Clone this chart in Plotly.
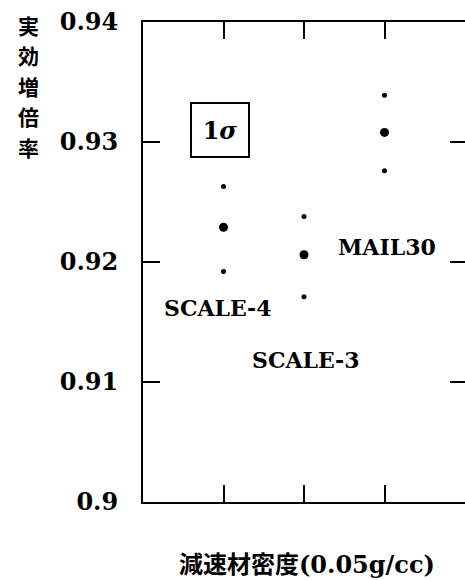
import plotly.graph_objects as go

codes = ["SCALE-4", "SCALE-3", "MAIL30"]
x_pos = [1, 2, 3]
keff = [0.9229, 0.9206, 0.9308]
keff_plus_sigma = [0.9263, 0.9238, 0.9339]
keff_minus_sigma = [0.9192, 0.9171, 0.9276]
y_ticks = [0.90, 0.91, 0.92, 0.93, 0.94]
y_tick_text = ["0.9", "0.91", "0.92", "0.93", "0.94"]
y_title_chars = ["実", "効", "増", "倍", "率"]

SERIF = "DejaVu Serif"
CJK = "Noto Sans CJK JP"

fig = go.Figure()
fig.add_trace(go.Scatter(
    x=x_pos + x_pos, y=keff_plus_sigma + keff_minus_sigma, mode="markers",
    marker=dict(color="black", size=5), showlegend=False, hoverinfo="skip"))
fig.add_trace(go.Scatter(
    x=x_pos, y=keff, mode="markers",
    marker=dict(color="black", size=9), showlegend=False))
# invisible trace to anchor the right-side tick axis
fig.add_trace(go.Scatter(x=[x_pos[0]], y=[keff[0]], yaxis="y2", mode="markers",
                         marker=dict(opacity=0), showlegend=False, hoverinfo="skip"))

label_pos = {"SCALE-4": (0.93, 0.9162), "SCALE-3": (2.02, 0.9118), "MAIL30": (3.03, 0.92125)}
for c in codes:
    lx, ly = label_pos[c]
    fig.add_annotation(x=lx, y=ly, text="<b>%s</b>" % c, showarrow=False,
                       font=dict(family=SERIF, size=22, color="black"))

fig.add_annotation(x=0.957, y=0.931, text="<b>1<i>σ</i></b>", showarrow=False,
                   font=dict(family=SERIF, size=24, color="black"),
                   bordercolor="black", borderwidth=2, width=54, height=50)

for i, ch in enumerate(y_title_chars):
    fig.add_annotation(xref="paper", yref="paper", x=-0.357, y=0.99375 - i * 0.0635,
                       xanchor="center", yanchor="middle", text="<b>%s</b>" % ch,
                       showarrow=False, font=dict(family=CJK, size=21, color="black"))

fig.add_annotation(xref="paper", yref="paper", x=0.51, y=-0.127, xanchor="center", yanchor="middle",
                   text="<b>減速材密度<span style='font-family:DejaVu Serif'>(0.05g/cc)</span></b>",
                   showarrow=False, font=dict(family=CJK, size=24, color="black"))

fig.update_layout(
    width=465, height=580,
    margin=dict(l=143, r=0, t=22, b=78),
    paper_bgcolor="white", plot_bgcolor="white",
    xaxis=dict(range=[0, 4], tickvals=x_pos, showticklabels=False, ticks="inside",
               ticklen=17, tickwidth=2, tickcolor="black", showline=True, linewidth=2,
               linecolor="black", mirror="ticks", showgrid=False, zeroline=False, fixedrange=True),
    yaxis=dict(range=[0.9, 0.94], tickvals=y_ticks, ticktext=["<b>%s</b>" % t for t in y_tick_text],
               ticks="inside",
               ticklen=17, tickwidth=2, tickcolor="black", showline=True, linewidth=2,
               linecolor="black", showgrid=False, zeroline=False, ticklabelstandoff=18,
               tickfont=dict(family=SERIF, size=24, color="black")),
    yaxis2=dict(range=[0.9, 0.94], overlaying="y", side="right", tickvals=y_ticks[1:4],
                showticklabels=False, ticks="inside", ticklen=15, tickwidth=2, tickcolor="black",
                showline=False, showgrid=False, zeroline=False),
)

fig.write_html("out.html")
